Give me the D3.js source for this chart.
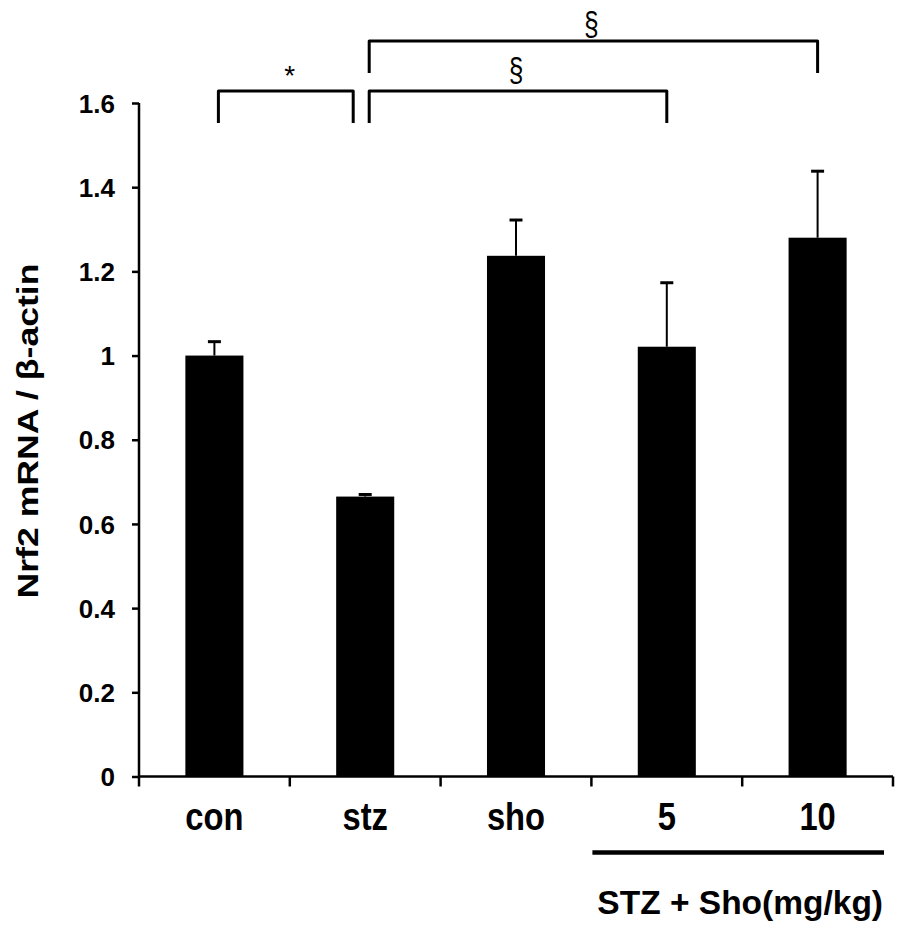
<!DOCTYPE html>
<html>
<head>
<meta charset="utf-8">
<script src="https://cdn.jsdelivr.net/npm/d3@7"></script>
<style>
  html, body { margin: 0; padding: 0; background: #fff; }
  svg { display: block; }
</style>
</head>
<body>
<svg id="chart" width="898" height="936"></svg>
<script>
const categories = ["con", "stz", "sho", "5", "10"];
const means = [1.0, 0.665, 1.237, 1.021, 1.28];
const errors = [0.033, 0.005, 0.085, 0.152, 0.158];
const yTickValues = [0, 0.2, 0.4, 0.6, 0.8, 1.0, 1.2, 1.4, 1.6];
const yTickLabels = ["0", "0.2", "0.4", "0.6", "0.8", "1", "1.2", "1.4", "1.6"];
const yTitle = "Nrf2 mRNA / β-actin";
const groupLabel = "STZ + Sho(mg/kg)";
const groupMembers = ["5", "10"];
const bracketFrom = ["con", "stz", "stz"];
const bracketTo = ["stz", "5", "10"];
const bracketLevel = [0, 0, 1];
const bracketSymbol = ["*", "§", "§"];

const svg = d3.select("#chart");
const font = "'Liberation Sans', Arial, Helvetica, sans-serif";

const x = d3.scaleBand().domain(categories).range([139, 893]).paddingInner(0.615).paddingOuter(0.3075);
const y = d3.scaleLinear().domain([0, 1.6]).range([776.5, 103]);

// bars
svg.append("g").selectAll("rect").data(categories).join("rect")
  .attr("x", d => x(d))
  .attr("width", x.bandwidth())
  .attr("y", (d, i) => y(means[i]))
  .attr("height", (d, i) => y(0) - y(means[i]))
  .attr("fill", "#000");

// error bars
const eb = svg.append("g").attr("stroke", "#000");
categories.forEach((c, i) => {
  const cx = x(c) + x.bandwidth() / 2;
  eb.append("line").attr("x1", cx).attr("x2", cx)
    .attr("y1", y(means[i])).attr("y2", y(means[i] + errors[i])).attr("stroke-width", 2);
  eb.append("line").attr("x1", cx - 6.5).attr("x2", cx + 6.5)
    .attr("y1", y(means[i] + errors[i])).attr("y2", y(means[i] + errors[i])).attr("stroke-width", 3);
});

// y axis
const yAxis = svg.append("g").attr("transform", "translate(139,0)")
  .call(d3.axisLeft(y).tickValues(yTickValues).tickFormat((d, i) => yTickLabels[i]).tickSize(7).tickPadding(0));
yAxis.select(".domain").attr("stroke-width", 2.5).attr("d", `M0,${y(1.6)}V${y(0)}`);
yAxis.selectAll(".tick line").attr("stroke-width", 2.5);
yAxis.selectAll(".tick text")
  .attr("x", -24)
  .attr("dy", "0.35em")
  .attr("font-family", font).attr("font-weight", "bold").attr("font-size", 26).attr("fill", "#000");

// x axis
const xEdges = categories.map(c => x(c) - x.step() * x.paddingInner() / 2).concat([893]);
const xAxisG = svg.append("g");
xAxisG.append("line").attr("x1", 139).attr("x2", 893).attr("y1", y(0)).attr("y2", y(0))
  .attr("stroke", "#000").attr("stroke-width", 2.5);
xAxisG.selectAll("line.tk").data(xEdges).join("line").attr("class", "tk")
  .attr("x1", d => d).attr("x2", d => d).attr("y1", y(0)).attr("y2", y(0) + 10)
  .attr("stroke", "#000").attr("stroke-width", 2.5);
xAxisG.selectAll("text").data(categories).join("text")
  .attr("transform", d => `translate(${x(d) + x.bandwidth() / 2},830) scale(0.84,1)`)
  .attr("text-anchor", "middle")
  .attr("font-family", font).attr("font-weight", "bold").attr("font-size", 39)
  .text(d => d);

// group underline and label
const gx1 = xEdges[categories.indexOf(groupMembers[0])] + 1;
const gx2 = 884;
svg.append("line").attr("x1", gx1).attr("x2", gx2).attr("y1", 852.5).attr("y2", 852.5)
  .attr("stroke", "#000").attr("stroke-width", 4.5);
svg.append("text").attr("x", (gx1 + gx2) / 2 + 2).attr("y", 914)
  .attr("text-anchor", "middle")
  .attr("font-family", font).attr("font-weight", "bold").attr("font-size", 33.5)
  .text(groupLabel);

// y title
svg.append("text")
  .attr("transform", "translate(38,431) rotate(-90)")
  .attr("text-anchor", "middle")
  .attr("font-family", font).attr("font-weight", "bold").attr("font-size", 29)
  .attr("textLength", 335).attr("lengthAdjust", "spacingAndGlyphs")
  .text(yTitle);

// significance brackets
const levelTop = [91, 41];
const legLen = 32;
const bg = svg.append("g");
bracketFrom.forEach((f, i) => {
  const shared = bracketFrom.includes(bracketTo[i]);
  const x1 = x(f) + x.bandwidth() / 2 + 4;
  const x2 = x(bracketTo[i]) + x.bandwidth() / 2 - (shared ? 12 : 0);
  const top = levelTop[bracketLevel[i]];
  bg.append("path")
    .attr("d", `M${x1},${top + legLen}V${top}H${x2}V${top + legLen}`)
    .attr("fill", "none").attr("stroke", "#000").attr("stroke-width", 3)
    .attr("stroke-linejoin", "round");
  const sym = bracketSymbol[i];
  const cx = (x1 + x2) / 2;
  if (sym === "*") {
    bg.append("text")
      .attr("x", cx + 4).attr("y", top - 6)
      .attr("text-anchor", "middle")
      .attr("font-family", font).attr("font-size", 28)
      .text(sym);
  } else {
    bg.append("text")
      .attr("transform", `translate(${cx - 2},${top - (bracketLevel[i] === 0 ? 10 : 6)}) scale(0.8,1)`)
      .attr("text-anchor", "middle")
      .attr("font-family", font).attr("font-size", 33)
      .text(sym);
  }
});
</script>
</body>
</html>
